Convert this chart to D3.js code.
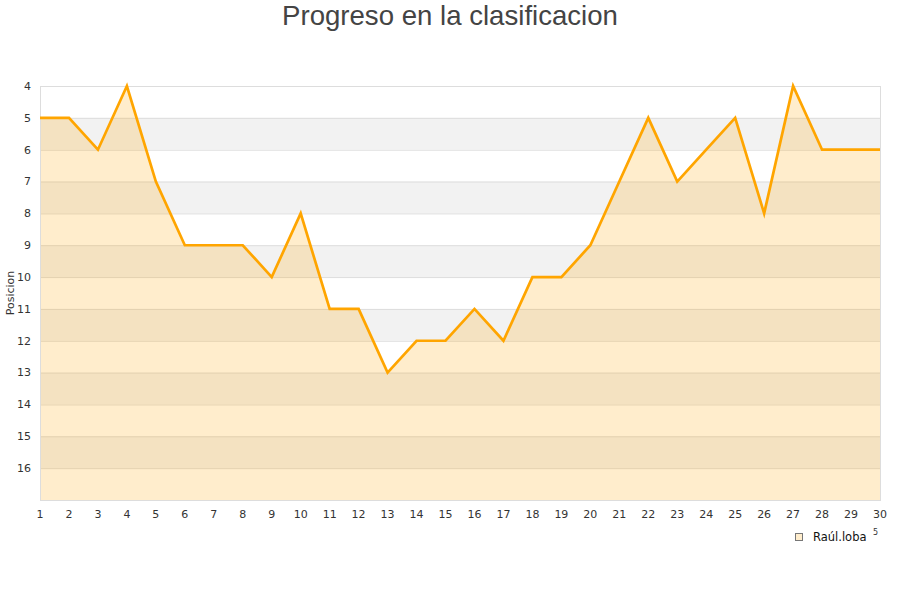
<!DOCTYPE html>
<html><head><meta charset="utf-8">
<script src="https://cdn.jsdelivr.net/npm/d3@7"></script>
<style>body{margin:0;background:#fff}svg{display:block}</style>
</head><body>
<svg id="c" width="900" height="600"></svg>
<script>
const rounds = d3.range(1, 31);
const positions = [5,5,6,4,7,9,9,9,10,8,11,11,13,12,12,11,12,10,10,9,7,5,7,6,5,8,4,6,6,6];
const yTicks = d3.range(4, 17);
const title = "Progreso en la clasificacion";
const yLabel = "Posicion";
const seriesName = "Raúl.loba";

const svg = d3.select("#c");
const m = {l:40, r:880, t:86, b:500};
const x = d3.scaleLinear().domain([1,30]).range([m.l, m.r]);
const y = d3.scaleLinear().domain([4,17]).range([m.t, m.b]);

const bands = d3.range(4, 17);
svg.append("g").selectAll("rect").data(bands).join("rect")
  .attr("x", m.l).attr("width", m.r - m.l)
  .attr("y", d => y(d)).attr("height", d => y(d+1) - y(d))
  .attr("fill", d => d % 2 === 1 ? "#f2f2f2" : "#ffffff");
svg.append("g").selectAll("line").data(d3.range(5, 17)).join("line")
  .attr("x1", m.l).attr("x2", m.r)
  .attr("y1", d => y(d)+0.5).attr("y2", d => y(d)+0.5)
  .attr("stroke", "#dddddd").attr("stroke-width", 1);

const data = rounds.map((r,i) => ({r, p: positions[i]}));
svg.append("path").datum(data)
  .attr("d", d3.area().x(d => x(d.r)).y0(y(17)).y1(d => y(d.p)))
  .attr("fill", "rgba(255,165,0,0.2)");
svg.append("rect").attr("x", m.l+0.5).attr("y", m.t+0.5)
  .attr("width", m.r - m.l).attr("height", m.b - m.t)
  .attr("fill", "none").attr("stroke", "#dddddd");
svg.append("path").datum(data)
  .attr("d", d3.line().x(d => x(d.r)).y(d => y(d.p)))
  .attr("fill", "none").attr("stroke", "#ffa500").attr("stroke-width", 2.7)
  .attr("stroke-linejoin", "miter");

const font = "DejaVu Sans, sans-serif";
svg.append("g").selectAll("text").data(yTicks).join("text")
  .attr("x", 31).attr("y", d => y(d)).attr("dy", "0.35em")
  .attr("text-anchor", "end").attr("font-family", font).attr("font-size", 11)
  .attr("fill", "#333").text(d => d);
svg.append("g").selectAll("text").data(rounds).join("text")
  .attr("x", d => x(d)).attr("y", 518)
  .attr("text-anchor", "middle").attr("font-family", font).attr("font-size", 11)
  .attr("fill", "#333").text(d => d);

svg.append("text").attr("x", 450).attr("y", 25).attr("text-anchor", "middle")
  .attr("font-family", "Liberation Sans, Arial, sans-serif").attr("font-size", 27.6)
  .attr("fill", "#444").text(title);

svg.append("text").attr("transform", "translate(14,293) rotate(-90)")
  .attr("text-anchor", "middle").attr("font-family", font).attr("font-size", 11)
  .attr("fill", "#333").text(yLabel);

svg.append("rect").attr("x", 795.5).attr("y", 533.5).attr("width", 7).attr("height", 7)
  .attr("fill", "#ffedcc").attr("stroke", "#777");
svg.append("text").attr("x", 813).attr("y", 541).attr("font-family", font)
  .attr("font-size", 11.5).attr("fill", "#111").text(seriesName);
svg.append("text").attr("x", 873).attr("y", 535).attr("font-family", font)
  .attr("font-size", 8).attr("fill", "#333").text("5");
</script>
</body></html>
